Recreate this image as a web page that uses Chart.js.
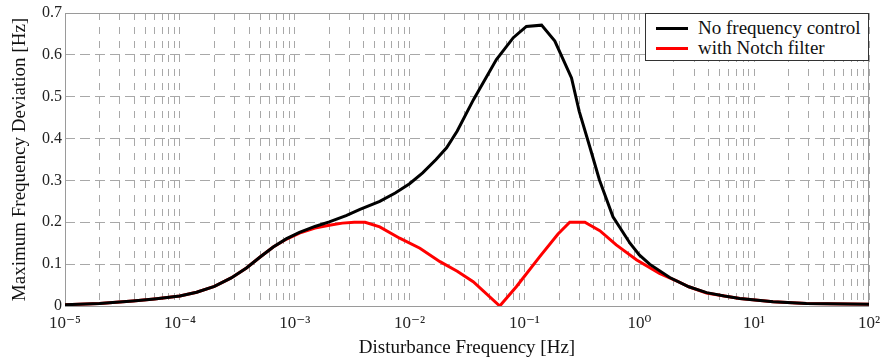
<!DOCTYPE html>
<html>
<head>
<meta charset="utf-8">
<script src="https://cdn.jsdelivr.net/npm/chart.js@4.4.1/dist/chart.umd.min.js"></script>
<style>
  body { margin: 0; background: #fff; }
  #wrap { position: relative; width: 891px; height: 361px; }
  #legend {
    position: absolute; left: 645px; top: 13px; width: 222px; height: 46px;
    border: 1px solid #333; background: #fff;
    font-family: 'Liberation Serif', 'DejaVu Serif', serif; font-size: 19px; color: #111;
  }
  .row { position: absolute; left: 0; height: 20px; line-height: 20px; white-space: nowrap; }
  .row span.sw { position: absolute; left: 10px; top: 9px; width: 32px; height: 3px; }
  .row span.tx { position: absolute; left: 52px; top: 0; font-family: 'Liberation Serif', 'DejaVu Serif', serif; }
</style>
</head>
<body>
<div id="wrap">
  <canvas id="chart" width="891" height="361"></canvas>
  <div id="legend">
    <div class="row" style="top:4px"><span class="sw" style="background:#000"></span><span class="tx">No frequency control</span></div>
    <div class="row" style="top:24px"><span class="sw" style="background:#ff0000"></span><span class="tx">with Notch filter</span></div>
  </div>
</div>
<script>
// values
const freqNoCtrl = [1e-5, 2e-5, 3.9e-5, 6e-5, 1e-4, 1.4e-4, 2e-4, 2.8e-4, 3.8e-4, 5e-4, 6.5e-4, 8.5e-4, 1.1e-3, 1.5e-3, 2e-3, 2.8e-3, 3.7e-3, 5.5e-3, 7.5e-3, 1e-2, 1.3e-2, 1.7e-2, 2.1e-2, 2.6e-2, 3.6e-2, 5.7e-2, 8e-2, 0.104, 0.141, 0.184, 0.257, 0.30, 0.37, 0.45, 0.59, 0.83, 1.0, 1.23, 1.84, 2.7, 3.85, 5.5, 7.5, 14.6, 28.5, 100];
const devNoCtrl  = [0.003, 0.006, 0.012, 0.017, 0.024, 0.033, 0.047, 0.067, 0.091, 0.117, 0.141, 0.161, 0.176, 0.190, 0.201, 0.216, 0.231, 0.250, 0.270, 0.292, 0.318, 0.350, 0.378, 0.418, 0.493, 0.589, 0.641, 0.668, 0.671, 0.633, 0.545, 0.465, 0.381, 0.301, 0.213, 0.150, 0.122, 0.100, 0.068, 0.046, 0.032, 0.024, 0.018, 0.010, 0.006, 0.004];

const freqNotch = [1e-5, 2e-5, 3.9e-5, 6e-5, 1e-4, 1.4e-4, 2e-4, 2.8e-4, 3.8e-4, 5e-4, 6.5e-4, 8.5e-4, 1.1e-3, 1.5e-3, 2e-3, 2.6e-3, 3.3e-3, 4.1e-3, 5.5e-3, 8.2e-3, 1.23e-2, 1.84e-2, 2.6e-2, 3.58e-2, 0.061, 0.085, 0.136, 0.196, 0.248, 0.336, 0.453, 0.63, 0.95, 1.5, 2.18, 2.7, 3.85, 5.5, 7.5, 14.6, 28.5, 100];
const devNotch  = [0.003, 0.006, 0.012, 0.017, 0.024, 0.033, 0.047, 0.067, 0.091, 0.117, 0.141, 0.160, 0.174, 0.186, 0.193, 0.198, 0.200, 0.200, 0.189, 0.162, 0.138, 0.106, 0.083, 0.058, 0.0, 0.046, 0.118, 0.172, 0.200, 0.200, 0.180, 0.146, 0.110, 0.078, 0.058, 0.046, 0.031, 0.024, 0.018, 0.010, 0.006, 0.004];

const decadeExps = [-5, -4, -3, -2, -1, 0, 1, 2];
const yTicks = [0, 0.1, 0.2, 0.3, 0.4, 0.5, 0.6, 0.7];

const SUP = { '-': '\u207B', '0': '\u2070', '1': '\u00B9', '2': '\u00B2', '3': '\u00B3', '4': '\u2074', '5': '\u2075', '6': '\u2076', '7': '\u2077', '8': '\u2078', '9': '\u2079' };
const sup = s => String(s).split('').map(c => SUP[c] || c).join('');

const FONT = "'Liberation Serif', 'DejaVu Serif', serif";
const gridGray = '#a8a8a8';

// x ticks: decades plus 2..9 minors for the grid
const xTickVals = [];
decadeExps.forEach((e, i) => {
  xTickVals.push(Math.pow(10, e));
  if (i < decadeExps.length - 1) for (let m = 2; m <= 9; m++) xTickVals.push(m * Math.pow(10, e));
});

const boxPlugin = {
  id: 'box',
  beforeDatasetsDraw(chart) {
    const { ctx, chartArea: a } = chart;
    ctx.save();
    ctx.strokeStyle = '#9a9a9a';
    ctx.lineWidth = 1;
    ctx.strokeRect(a.left + 0.5, a.top + 0.5, a.right - a.left - 1, a.bottom - a.top);
    ctx.restore();
  }
};

new Chart(document.getElementById('chart'), {
  type: 'line',
  data: {
    datasets: [
      {
        label: 'No frequency control',
        data: freqNoCtrl.map((f, i) => ({ x: f, y: devNoCtrl[i] })),
        borderColor: '#000', borderWidth: 3, pointRadius: 0, tension: 0, fill: false
      },
      {
        label: 'with Notch filter',
        data: freqNotch.map((f, i) => ({ x: f, y: devNotch[i] })),
        borderColor: '#ff0000', borderWidth: 3, pointRadius: 0, tension: 0, fill: false
      }
    ]
  },
  options: {
    responsive: false,
    animation: false,
    devicePixelRatio: 1,
    layout: { padding: { top: 13, right: 22, left: 0, bottom: 0 } },
    plugins: { legend: { display: false }, tooltip: { enabled: false } },
    scales: {
      x: {
        type: 'logarithmic',
        min: 1e-5, max: 100,
        afterBuildTicks: scale => { scale.ticks = xTickVals.map(v => ({ value: v })); },
        afterFit: scale => { scale.height = 55; },
        ticks: {
          autoSkip: false, maxRotation: 0, padding: 7,
          color: '#222', font: { family: FONT, size: 17 },
          callback: v => {
            const e = Math.round(Math.log10(v));
            return Math.abs(v - Math.pow(10, e)) < 1e-12 * Math.pow(10, e + 1) ? '10' + sup(e) : '';
          }
        },
        grid: { color: gridGray, lineWidth: 1, drawTicks: false },
        border: { display: false, dash: [7, 7] },
        title: { display: true, text: 'Disturbance Frequency [Hz]', color: '#111', font: { family: FONT, size: 19 }, padding: { top: 0, bottom: 2 } }
      },
      y: {
        min: 0, max: 0.7,
        afterBuildTicks: scale => { scale.ticks = yTicks.map(v => ({ value: v })); },
        afterFit: scale => { scale.width = 65; },
        ticks: { padding: 3, color: '#222', font: { family: FONT, size: 16 } },
        grid: { color: gridGray, lineWidth: 1, drawTicks: false },
        border: { display: false, dash: [10, 5] },
        title: { display: true, text: 'Maximum Frequency Deviation [Hz]', color: '#111', font: { family: FONT, size: 19 }, padding: { top: 9, bottom: 0 } }
      }
    }
  },
  plugins: [boxPlugin]
});
</script>
</body>
</html>
